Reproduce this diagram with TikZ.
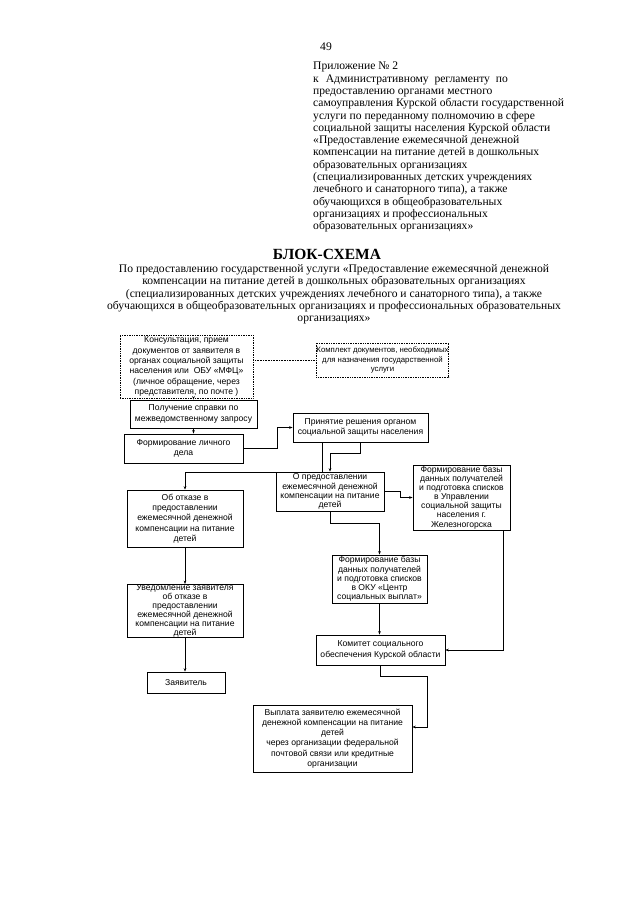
\documentclass[tikz,border=0pt]{standalone}
\usepackage{fontspec}
\setmainfont{Liberation Serif}
\setsansfont{Liberation Sans}
\usetikzlibrary{arrows.meta}

\begin{document}
\begin{tikzpicture}[x=1pt,y=-1pt,
	box/.style={draw,line width=0.7pt,align=center,inner sep=0.3pt,font=\sffamily\fontsize{8.6}{10.3}\selectfont},
	dotbox/.style={box,densely dotted},
	arr/.style={-{Stealth[length=3.5pt,width=2.6pt]},line width=0.6pt},
	plain/.style={inner sep=0pt,font=\fontsize{11.6}{12.3}\selectfont}]
	\useasboundingbox[fill=white] (0,0) rectangle (640,905);
	\node[plain] (page) at (326,47) {49};
	\node[plain,anchor=north west,align=left] (appendix) at (313,62) {Приложение № 2\\
		к\hspace{0.6em}Административному\hspace{0.5em}регламенту\hspace{0.5em}по\\
		предоставлению органами местного\\
		самоуправления Курской области государственной\\
		услуги по переданному полномочию в сфере\\
		социальной защиты населения Курской области\\
		«Предоставление ежемесячной денежной\\
		компенсации на питание детей в дошкольных\\
		образовательных организациях\\
		(специализированных детских учреждениях\\
		лечебного и санаторного типа), а также\\
		обучающихся в общеобразовательных\\
		организациях и профессиональных\\
		образовательных организациях»};
	\node[plain,font=\bfseries\fontsize{15.5}{16}\selectfont] (title) at (327,254.5) {БЛОК-СХЕМА};
	\node[plain,anchor=north,align=center] (subtitle) at (334,264.5) {По предоставлению государственной услуги «Предоставление ежемесячной денежной\\
		компенсации на питание детей в дошкольных образовательных организациях\\
		(специализированных детских учреждениях лечебного и санаторного типа), а также\\
		обучающихся в общеобразовательных организациях и профессиональных образовательных\\
		организациях»};

	\node[dotbox,minimum width=133,minimum height=63] (cons) at (186.5,366.5) {Консультация, прием\\документов от заявителя в\\органах социальной защиты\\населения или\ \ ОБУ «МФЦ»\\(личное обращение, через\\представителя, по почте )};
	\node[dotbox,minimum width=125,minimum height=34,font=\sffamily\fontsize{7.8}{9.6}\selectfont] (kompl) at (382.5,360) {Комплект документов, необходимых\\для назначения государственной\\услуги};
	\node[box,minimum width=127,minimum height=28] (sprav) at (193.5,414) {Получение справки по\\межведомственному запросу};
	\node[box,minimum width=119,minimum height=29] (delo) at (183.5,448.5) {Формирование личного\\дела};
	\node[box,minimum width=135,minimum height=29] (reshen) at (360.5,427.5) {Принятие решения органом\\социальной защиты населения};
	\node[box,minimum width=108,minimum height=39,font=\sffamily\fontsize{8.6}{9.3}\selectfont] (predost) at (330,491.5) {О предоставлении\\ежемесячной денежной\\компенсации на питание\\детей};
	\node[box,minimum width=97,minimum height=65,font=\sffamily\fontsize{8.6}{9.1}\selectfont] (bazaG) at (461.5,497.5) {Формирование базы\\данных получателей\\и подготовка списков\\в Управлении\\социальной защиты\\населения г.\\Железногорска};
	\node[box,minimum width=116,minimum height=57] (otkaz) at (185,518.5) {Об отказе в\\предоставлении\\ежемесячной денежной\\компенсации на питание\\детей};
	\node[box,minimum width=95,minimum height=48,font=\sffamily\fontsize{8.6}{9.3}\selectfont] (bazaC) at (379.5,579) {Формирование базы\\данных получателей\\и подготовка списков\\в ОКУ «Центр\\социальных выплат»};
	\node[box,minimum width=116,minimum height=52,font=\sffamily\fontsize{8.6}{9}\selectfont] (uved) at (185,611) {Уведомление заявителя\\об отказе в\\предоставлении\\ежемесячной денежной\\компенсации на питание\\детей};
	\node[box,minimum width=129,minimum height=30] (komitet) at (380.5,650) {Комитет социального\\обеспечения Курской области};
	\node[box,minimum width=78,minimum height=21] (zayav) at (186,682.5) {Заявитель};
	\node[box,minimum width=159,minimum height=67] (vypl) at (332.5,738.5) {Выплата заявителю ежемесячной\\денежной компенсации на питание\\детей\\через организации федеральной\\почтовой связи или кредитные\\организации};

	\draw[densely dotted,line width=0.6pt] (kompl.west -| cons.east) -- (kompl.west);
	\draw[arr] (sprav.north |- cons.south) -- (sprav.north);
	\draw[arr] (sprav.south) -- (sprav.south |- delo.north);
	\draw[arr] (delo.east) -- ++(34,0) |- (reshen.west);
	\draw[arr] (reshen.south) -- ++(0,11) -| (predost.north);
	\draw[arr] ([xshift=-38.5pt]reshen.south) -- ++(0,30) -| (otkaz.north);
	\draw[arr] (predost.east) -- ++(16,0) |- (bazaG.west);
	\draw[arr] (predost.south) -- ++(0,12) -| (bazaC.north);
	\draw[arr] (bazaC.south) -- (bazaC.south |- komitet.north);
	\draw[arr] ([xshift=41.5pt]bazaG.south) |- (komitet.east);
	\draw[arr] (otkaz.south) -- (uved.north);
	\draw[arr] (uved.south) -- (uved.south |- zayav.north);
	\draw[arr] (komitet.south) -- ++(0,11) -- ++(46.5,0) |- ([yshift=11.5pt]vypl.east);
\end{tikzpicture}
\end{document}
